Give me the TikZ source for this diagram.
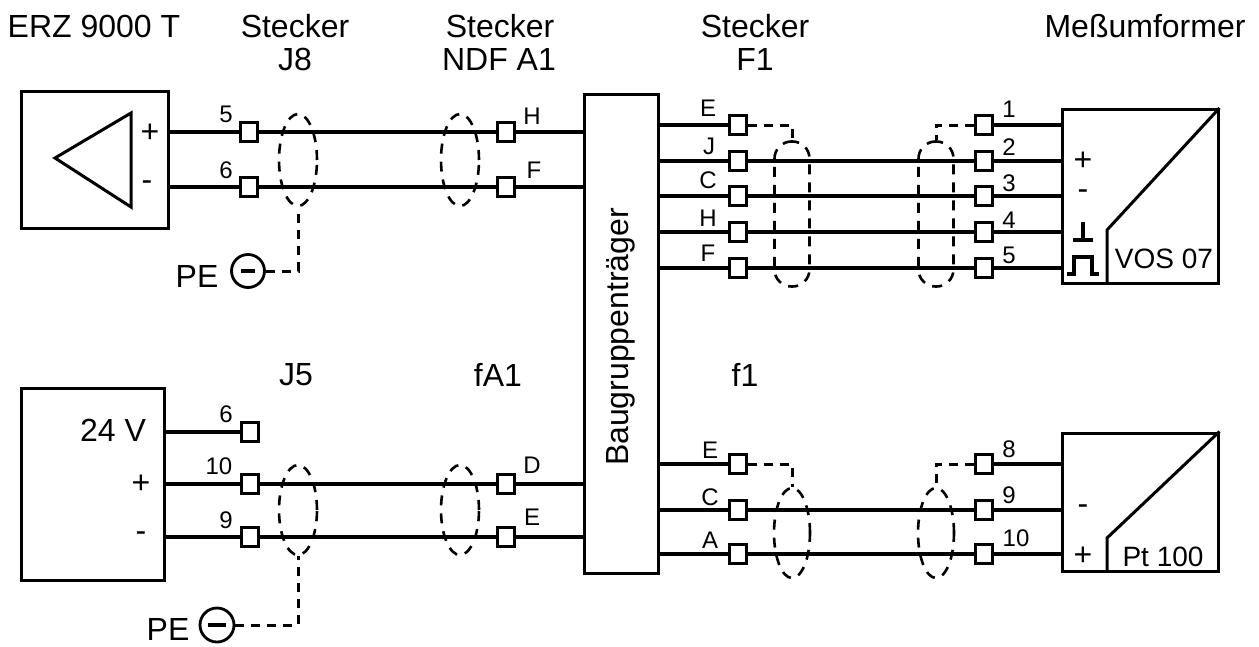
\documentclass[tikz,border=0pt]{standalone}
\usepackage{fontspec}
\setmainfont{Liberation Sans}
\usetikzlibrary{backgrounds,shapes.geometric}
\begin{document}
\begin{tikzpicture}[x=1pt,y=-1pt,
  wire/.style={line width=3.6pt},
  frame/.style={draw,line width=3pt,fill=none,inner sep=0pt},
  term/.style={draw,line width=2.8pt,fill=white,minimum width=17pt,minimum height=19pt,inner sep=0pt},
  shield/.style={draw,line width=2.6pt,ellipse,minimum width=38pt,minimum height=90pt,inner sep=0pt,dash pattern=on 10pt off 8pt},
  shieldlong/.style={draw,line width=2.6pt,rectangle,rounded corners=17pt,minimum width=35pt,minimum height=145pt,inner sep=0pt,dash pattern=on 10pt off 8pt},
  earth/.style={line width=3pt,dash pattern=on 9pt off 7pt},
  head/.style={font=\fontsize{32}{32}\selectfont,inner sep=0pt},
  txt/.style={font=\fontsize{32}{32}\selectfont,inner sep=0pt},
  small/.style={font=\fontsize{28}{28}\selectfont,inner sep=0pt},
  pin/.style={font=\fontsize{24}{24}\selectfont,inner sep=0pt},
]
\useasboundingbox (0,0) rectangle (1259,646);

% headings
\node[head] (hERZ) at (94,26) {ERZ 9000 T};
\node[head] (hJ8a) at (295,26) {Stecker};
\node[head] (hJ8b) at (295,59) {J8};
\node[head] (hAa) at (500,26) {Stecker};
\node[head] (hAb) at (499,59) {NDF A1};
\node[head] (hFa) at (755,26) {Stecker};
\node[head] (hFb) at (755,59) {F1};
\node[head] (hMU) at (1145,26) {Meßumformer};
\node[head] (hJ5) at (296,375) {J5};
\node[head] (hfA) at (498,375) {fA1};
\node[head] (hf1) at (745,375) {f1};

% boxes
\node[frame,minimum width=147pt,minimum height=137pt] (amp) at (94.5,160) {};
\node[frame,minimum width=143pt,minimum height=192pt] (supply) at (92.5,484) {};
\node[frame,minimum width=74pt,minimum height=479pt] (rack) at (621,333.5) {};
\node[frame,minimum width=156pt,minimum height=174pt] (vos) at (1140,196.5) {};
\node[frame,minimum width=156pt,minimum height=138pt] (pt) at (1140,502) {};
\node[txt,rotate=90] (rackname) at (621,337) {Baugruppenträger};

% terminals J8 / A1
\node[term] (j5) at (249,132) {};
\node[term] (j6) at (249,187) {};
\node[term] (aH) at (506,132) {};
\node[term] (aF) at (506,187) {};
% terminals J5 / fA1
\node[term] (s6) at (250,432) {};
\node[term] (s10) at (250,484) {};
\node[term] (s9) at (250,537) {};
\node[term] (fD) at (506,484) {};
\node[term] (fE) at (506,537) {};
% terminals F1
\node[term] (fE1) at (738,125) {};
\node[term] (fJ) at (738,161) {};
\node[term] (fC) at (738,196) {};
\node[term] (fH) at (738,232) {};
\node[term] (fF) at (738,268) {};
\node[term] (v1) at (984,125) {};
\node[term] (v2) at (984,161) {};
\node[term] (v3) at (984,196) {};
\node[term] (v4) at (984,232) {};
\node[term] (v5) at (984,268) {};
% terminals f1
\node[term] (gE) at (738,464) {};
\node[term] (gC) at (738,510) {};
\node[term] (gA) at (738,554) {};
\node[term] (p8) at (984,464) {};
\node[term] (p9) at (984,510) {};
\node[term] (p10) at (984,554) {};

% shields
\node[shield,minimum height=92pt] (sa) at (298,160) {};
\node[shield,minimum height=92pt] (sb) at (460,160) {};
\node[shield] (sc) at (298,510) {};
\node[shield] (sd) at (460,510) {};
\node[shieldlong] (se) at (792,214) {};
\node[shieldlong] (sf) at (936,214) {};
\node[shield,minimum width=36pt] (sg) at (792,533) {};
\node[shield,minimum width=36pt] (sh) at (936,533) {};

% earth
\node[draw,circle,line width=2.8pt,minimum size=33pt,inner sep=0pt] (pea) at (248,271) {};
\node[draw,circle,line width=2.8pt,minimum size=34pt,inner sep=0pt] (peb) at (217,625) {};
\node[txt] (pelabela) at (197,276) {PE};
\node[txt] (pelabelb) at (168,629) {PE};
\draw[line width=3.4pt] (pea.center)+(-7,0) -- +(7,0);
\draw[line width=3.4pt] (peb.center)+(-9,0) -- +(9,0);
\draw[earth] (pea) -| (sa);
\draw[earth] (peb) -| (sc);
\draw[earth] (fE1) -| (se);
\draw[earth] (v1) -| (sf);
\draw[earth] (gE) -| (sg);
\draw[earth] (p8) -| (sh);

% wires
\begin{scope}[on background layer]
\draw[wire] (amp.east |- j5) -- (j5) -- (aH) -- (rack.west |- aH);
\draw[wire] (amp.east |- j6) -- (j6) -- (aF) -- (rack.west |- aF);
\draw[wire] (supply.east |- s6) -- (s6);
\draw[wire] (supply.east |- s10) -- (s10) -- (fD) -- (rack.west |- fD);
\draw[wire] (supply.east |- s9) -- (s9) -- (fE) -- (rack.west |- fE);
\draw[wire] (rack.east |- fE1) -- (fE1);
\draw[wire] (rack.east |- fJ) -- (fJ) -- (v2) -- (vos.west |- v2);
\draw[wire] (rack.east |- fC) -- (fC) -- (v3) -- (vos.west |- v3);
\draw[wire] (rack.east |- fH) -- (fH) -- (v4) -- (vos.west |- v4);
\draw[wire] (rack.east |- fF) -- (fF) -- (v5) -- (vos.west |- v5);
\draw[wire] (v1) -- (vos.west |- v1);
\draw[wire] (rack.east |- gE) -- (gE);
\draw[wire] (rack.east |- gC) -- (gC) -- (p9) -- (pt.west |- p9);
\draw[wire] (rack.east |- gA) -- (gA) -- (p10) -- (pt.west |- p10);
\draw[wire] (p8) -- (pt.west |- p8);
\end{scope}

% symbols in the boxes
\draw[line width=3pt] (131,113) -- (55,158) -- (131,207) -- cycle;
\draw[line width=3pt] (vos.north east) -- (1107,230) -- (1107,283);
\draw[line width=3pt] (pt.north east) -- (1107,538) -- (1107,571);
\draw[line width=3.2pt] (1073,240) -- (1093,240);
\draw[line width=3.2pt] (1083,222) -- (1083,240);
\draw[line width=3.2pt] (1067,274) -- (1074,274) -- (1074,257) -- (1092,257) -- (1092,274) -- (1099,274);

% box texts
\node[txt] (ampplus) at (150,133) {+};
\node[txt] (ampminus) at (147,186) {-};
\node[txt] (volt) at (113,430) {24 V};
\node[txt] (supplus) at (141,484) {+};
\node[txt] (supminus) at (141,537) {-};
\node[txt] (vosplus) at (1083,161) {+};
\node[txt] (vosminus) at (1083,195) {-};
\node[small] (vosname) at (1164,259) {VOS 07};
\node[txt] (ptminus) at (1083,510) {-};
\node[txt] (ptplus) at (1083,556) {+};
\node[small] (ptname) at (1163,557) {Pt 100};

% pin labels
\node[pin] (l5) at (226,114) {5};
\node[pin] (l6) at (226,170) {6};
\node[pin] (lH) at (532,116) {H};
\node[pin] (lF) at (534,170) {F};
\node[pin] (l6b) at (226,414) {6};
\node[pin] (l10) at (219,466) {10};
\node[pin] (l9) at (226,520) {9};
\node[pin] (lD) at (532,465) {D};
\node[pin] (lE) at (532,517) {E};
\node[pin] (lEa) at (708,108) {E};
\node[pin] (lJ) at (709,146) {J};
\node[pin] (lC) at (708,180) {C};
\node[pin] (lHb) at (708,218) {H};
\node[pin] (lFb) at (708,253) {F};
\node[pin] (n1) at (1009,109) {1};
\node[pin] (n2) at (1009,147) {2};
\node[pin] (n3) at (1009,183) {3};
\node[pin] (n4) at (1009,220) {4};
\node[pin] (n5) at (1009,255) {5};
\node[pin] (lEb) at (710,450) {E};
\node[pin] (lCb) at (710,497) {C};
\node[pin] (lA) at (710,540) {A};
\node[pin] (n8) at (1009,449) {8};
\node[pin] (n9) at (1009,495) {9};
\node[pin] (n10) at (1016,538) {10};
\end{tikzpicture}
\end{document}
